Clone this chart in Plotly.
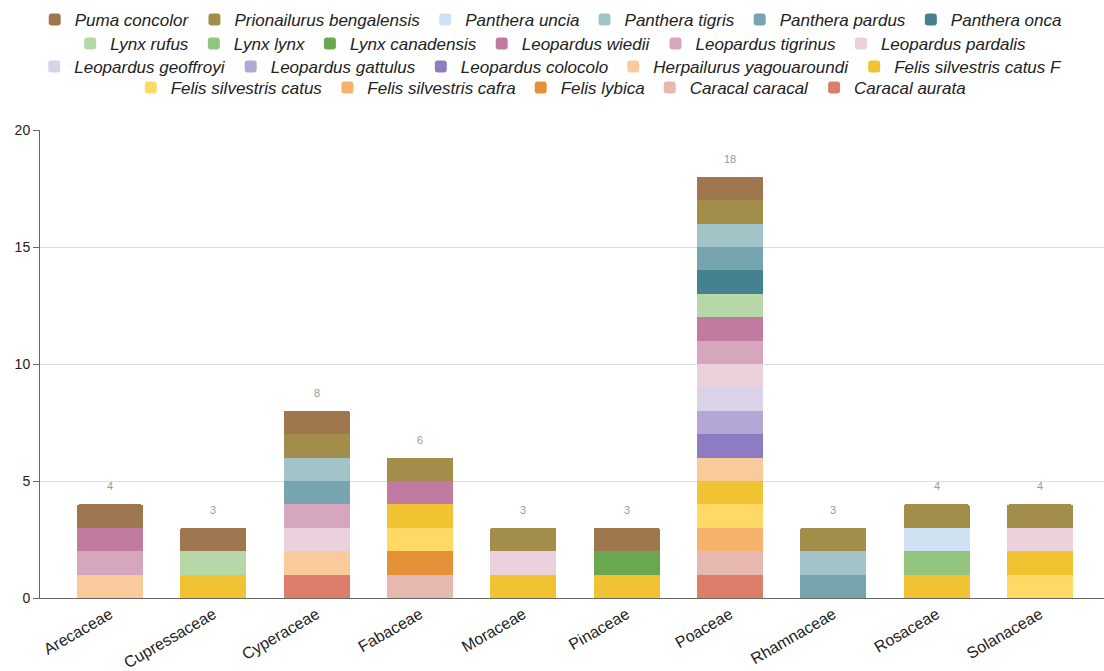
import plotly.graph_objects as go

# Plant families (x categories)
families = ["Arecaceae", "Cupressaceae", "Cyperaceae", "Fabaceae", "Moraceae",
            "Pinaceae", "Poaceae", "Rhamnaceae", "Rosaceae", "Solanaceae"]

# Records per felid species, one value per family (same order as `families`)
caracal_aurata = [0, 0, 1, 0, 0, 0, 1, 0, 0, 0]
caracal_caracal = [0, 0, 0, 1, 0, 0, 1, 0, 0, 0]
felis_lybica = [0, 0, 0, 1, 0, 0, 0, 0, 0, 0]
felis_silvestris_cafra = [0, 0, 0, 0, 0, 0, 1, 0, 0, 0]
felis_silvestris_catus = [0, 0, 0, 1, 0, 0, 1, 0, 0, 1]
felis_silvestris_catus_f = [0, 1, 0, 1, 1, 1, 1, 0, 1, 1]
herpailurus_yagouaroundi = [1, 0, 1, 0, 0, 0, 1, 0, 0, 0]
leopardus_colocolo = [0, 0, 0, 0, 0, 0, 1, 0, 0, 0]
leopardus_gattulus = [0, 0, 0, 0, 0, 0, 1, 0, 0, 0]
leopardus_geoffroyi = [0, 0, 0, 0, 0, 0, 1, 0, 0, 0]
leopardus_pardalis = [0, 0, 1, 0, 1, 0, 1, 0, 0, 1]
leopardus_tigrinus = [1, 0, 1, 0, 0, 0, 1, 0, 0, 0]
leopardus_wiedii = [1, 0, 0, 1, 0, 0, 1, 0, 0, 0]
lynx_canadensis = [0, 0, 0, 0, 0, 1, 0, 0, 0, 0]
lynx_lynx = [0, 0, 0, 0, 0, 0, 0, 0, 1, 0]
lynx_rufus = [0, 1, 0, 0, 0, 0, 1, 0, 0, 0]
panthera_onca = [0, 0, 0, 0, 0, 0, 1, 0, 0, 0]
panthera_pardus = [0, 0, 1, 0, 0, 0, 1, 1, 0, 0]
panthera_tigris = [0, 0, 1, 0, 0, 0, 1, 1, 0, 0]
panthera_uncia = [0, 0, 0, 0, 0, 0, 0, 0, 1, 0]
prionailurus_bengalensis = [0, 0, 1, 1, 1, 0, 1, 1, 1, 1]
puma_concolor = [1, 1, 1, 0, 0, 1, 1, 0, 0, 0]

# Stack order, bottom to top: (name, values, colour, legend row)
series = [
    ("Caracal aurata", caracal_aurata, "#dd7e6b", "legend4"),
    ("Caracal caracal", caracal_caracal, "#e6b8af", "legend4"),
    ("Felis lybica", felis_lybica, "#e69138", "legend4"),
    ("Felis silvestris cafra", felis_silvestris_cafra, "#f6b26b", "legend4"),
    ("Felis silvestris catus", felis_silvestris_catus, "#ffd966", "legend4"),
    ("Felis silvestris catus F", felis_silvestris_catus_f, "#f1c232", "legend3"),
    ("Herpailurus yagouaroundi", herpailurus_yagouaroundi, "#f9cb9c", "legend3"),
    ("Leopardus colocolo", leopardus_colocolo, "#8e7cc3", "legend3"),
    ("Leopardus gattulus", leopardus_gattulus, "#b4a7d6", "legend3"),
    ("Leopardus geoffroyi", leopardus_geoffroyi, "#d9d2e9", "legend3"),
    ("Leopardus pardalis", leopardus_pardalis, "#ead1dc", "legend2"),
    ("Leopardus tigrinus", leopardus_tigrinus, "#d5a6bd", "legend2"),
    ("Leopardus wiedii", leopardus_wiedii, "#c27ba0", "legend2"),
    ("Lynx canadensis", lynx_canadensis, "#6aa84f", "legend2"),
    ("Lynx lynx", lynx_lynx, "#93c47d", "legend2"),
    ("Lynx rufus", lynx_rufus, "#b6d7a8", "legend2"),
    ("Panthera onca", panthera_onca, "#45818e", "legend"),
    ("Panthera pardus", panthera_pardus, "#76a5af", "legend"),
    ("Panthera tigris", panthera_tigris, "#a2c4c9", "legend"),
    ("Panthera uncia", panthera_uncia, "#cfe2f3", "legend"),
    ("Prionailurus bengalensis", prionailurus_bengalensis, "#a38d4b", "legend"),
    ("Puma concolor", puma_concolor, "#9e774e", "legend"),
]

FONT = "Arial, Liberation Sans, sans-serif"

fig = go.Figure()
for name, vals, color, leg in series:
    fig.add_trace(go.Bar(
        x=families, y=vals, name=name, legend=leg,
        marker=dict(color=color, line=dict(width=0)),
        width=0.64,
    ))

# Stack totals shown above each bar
totals = [sum(s[1][i] for s in series) for i in range(len(families))]
for fam, tot in zip(families, totals):
    fig.add_annotation(x=fam, y=tot, text=str(tot), showarrow=False,
                       yshift=18, font=dict(family=FONT, size=11, color="#9a9a9a"))

# Four centred legend rows above the plot
plot_top, plot_bottom = 130, 598
row_centres = [20, 44, 67, 88]
legend_layout = {}
for key, py in zip(["legend", "legend2", "legend3", "legend4"], row_centres):
    legend_layout[key] = dict(
        orientation="h", x=0.48, xanchor="center",
        y=(plot_bottom - py) / (plot_bottom - plot_top), yanchor="middle",
        traceorder="reversed",
        font=dict(family=FONT, size=17, color="#222222", style="italic"),
        itemwidth=30, bgcolor="rgba(0,0,0,0)",
    )

fig.update_layout(
    barmode="stack",
    barcornerradius=2,
    width=1104, height=671,
    margin=dict(l=40, r=0, t=plot_top, b=671 - plot_bottom, autoexpand=False),
    plot_bgcolor="white", paper_bgcolor="white",
    font=dict(family=FONT, color="#222222"),
    showlegend=True,
    **legend_layout,
)
fig.update_xaxes(
    range=[-0.678, 9.62], tickangle=-30, automargin=False,
    tickfont=dict(family=FONT, size=16, color="#222222"),
    showline=True, linecolor="#666666", linewidth=1,
    showgrid=False, ticks="",
)
fig.update_yaxes(
    range=[0, 20], tickvals=[0, 5, 10, 15, 20], automargin=False,
    tickfont=dict(family=FONT, size=14, color="#222222"),
    showline=True, linecolor="#666666", linewidth=1,
    ticks="outside", ticklen=6, tickcolor="#666666",
    showgrid=True, gridcolor="#dcdcdc", gridwidth=1,
    zeroline=False,
)

fig.write_html("out.html")
